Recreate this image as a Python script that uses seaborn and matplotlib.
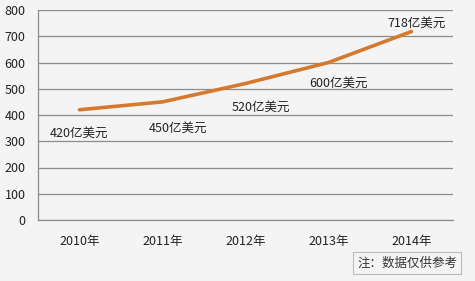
import matplotlib
matplotlib.use("Agg")
import matplotlib.pyplot as plt
import seaborn as sns
import pandas as pd
from matplotlib.ticker import FixedLocator

years = ["2010年", "2011年", "2012年", "2013年", "2014年"]
values = [420, 450, 520, 600, 718]
labels = ["420亿美元", "450亿美元", "520亿美元", "600亿美元", "718亿美元"]
y_ticks = [0, 100, 200, 300, 400, 500, 600, 700, 800]
note = "注：数据仅供参考"

sns.set_theme(style="white")
plt.rcParams['font.family'] = ['Noto Sans CJK SC', 'DejaVu Sans']

bg = "#f4f4f4"
grid = "#8c8c8c"
fig = plt.figure(figsize=(4.75, 2.81), dpi=100, facecolor=bg)
ax = fig.add_axes([38/475, 61/281, 415/475, 210/281])
ax.set_facecolor(bg)

df = pd.DataFrame({"year": years, "value": values})
sns.lineplot(data=df, x="year", y="value", ax=ax, color="#d5792f", linewidth=2.6, sort=False)

ax.set_xlim(-0.5, 4.5)
ax.set_ylim(0, 800)
ax.set_yticks(y_ticks)
ax.set_yticklabels([str(v) for v in y_ticks])
ax.yaxis.grid(True, color=grid, linewidth=0.9)
ax.set_axisbelow(True)
ax.set_xlabel("")
ax.set_ylabel("")

ax.set_xticks(range(len(years)))
ax.set_xticklabels(years)
ax.xaxis.set_minor_locator(FixedLocator([i - 0.5 for i in range(len(years) + 1)]))
ax.tick_params(axis="x", which="major", length=0, pad=11, labelsize=9, colors="#222222")
ax.tick_params(axis="x", which="minor", length=4, width=0.9, color=grid, direction="out")
ax.tick_params(axis="y", which="major", length=4, width=0.9, color=grid, direction="out",
               labelsize=9, pad=5, labelcolor="#222222")

for s in ["top", "right"]:
    ax.spines[s].set_visible(False)
for s in ["left", "bottom"]:
    ax.spines[s].set_color(grid)
    ax.spines[s].set_linewidth(0.9)

offsets = [(0, -17), (11, -19), (11, -17), (7, -15), (4, 6)]
for i, (v, lab, off) in enumerate(zip(values, labels, offsets)):
    ax.annotate(lab, (i, v), xytext=off, textcoords="offset points",
                ha="center", va="center", fontsize=9, color="#222222")

fig.text(407/475, 1 - 263/281, note, ha="center", va="center", fontsize=9, color="#333333",
         bbox=dict(boxstyle="square,pad=0.35", facecolor=bg, edgecolor="#bbbbbb", linewidth=0.8))

fig.savefig("out.png", dpi=100, facecolor=bg)
